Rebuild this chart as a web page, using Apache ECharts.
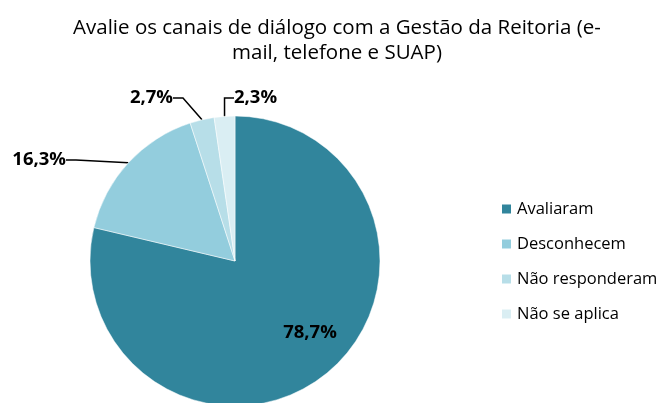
<!DOCTYPE html>
<html><head><meta charset="utf-8">
<script src="https://cdn.jsdelivr.net/npm/echarts@6/dist/echarts.min.js"></script>
<style>html,body{margin:0;padding:0;background:#fff}#c{width:664px;height:403px}</style>
</head><body><div id="c"></div>
<script>
const categories = ["Avaliaram", "Desconhecem", "Não responderam", "Não se aplica"];
const values = [78.7, 16.3, 2.7, 2.3];
const colors = ["#31859C", "#93CDDD", "#B7DEE8", "#DAEEF3"];
const labelPos = [[310, 333], [66, 160], [173, 98], [234, 98]];
const fmt = v => v.toFixed(1).replace('.', ',') + '%';

const chart = echarts.init(document.getElementById('c'));
chart.setOption({
  animation: false,
  title: {
    text: 'Avalie os canais de diálogo com a Gestão da Reitoria (e-\nmail, telefone e SUAP)',
    left: 332, top: 11, textAlign: 'center',
    textStyle: { fontFamily: 'Open Sans', fontSize: 20.5, fontWeight: 'normal', color: '#000', lineHeight: 25 }
  },
  legend: {
    orient: 'vertical', left: 495, top: 193, itemWidth: 11, itemHeight: 11, itemGap: 13,
    icon: 'rect',
    textStyle: { fontFamily: 'Open Sans', fontSize: 16.5, color: '#000', padding: [0,0,0,0], lineHeight: 22 },
    data: categories
  },
  series: [{
    type: 'pie',
    center: [235, 261], radius: 145,
    startAngle: 90, clockwise: true,
    silent: true,
    data: categories.map((c, i) => ({
      name: c, value: values[i],
      itemStyle: { color: colors[i], borderColor: '#fff', borderWidth: 0.5 },
      label: i === 0 ? { position: 'inside', show: true } : { position: 'outside', show: true },
      labelLine: { show: i !== 0, length: 12, length2: 10, lineStyle: { color: '#000', width: 1.5 } }
    })),
    label: {
      formatter: p => fmt(p.value),
      fontFamily: 'Open Sans', fontSize: 18.5, fontWeight: 'bold', color: '#000'
    },
    labelLayout: p => {
      const lp = labelPos[p.dataIndex];
      if (p.dataIndex === 0) return { x: lp[0], y: lp[1], align: 'center', verticalAlign: 'middle' };
      if (p.dataIndex === 3) return { x: lp[0], y: lp[1], align: 'left', verticalAlign: 'middle' };
      return { x: lp[0], y: lp[1], align: 'right', verticalAlign: 'middle' };
    }
  }]
});
</script></body></html>
